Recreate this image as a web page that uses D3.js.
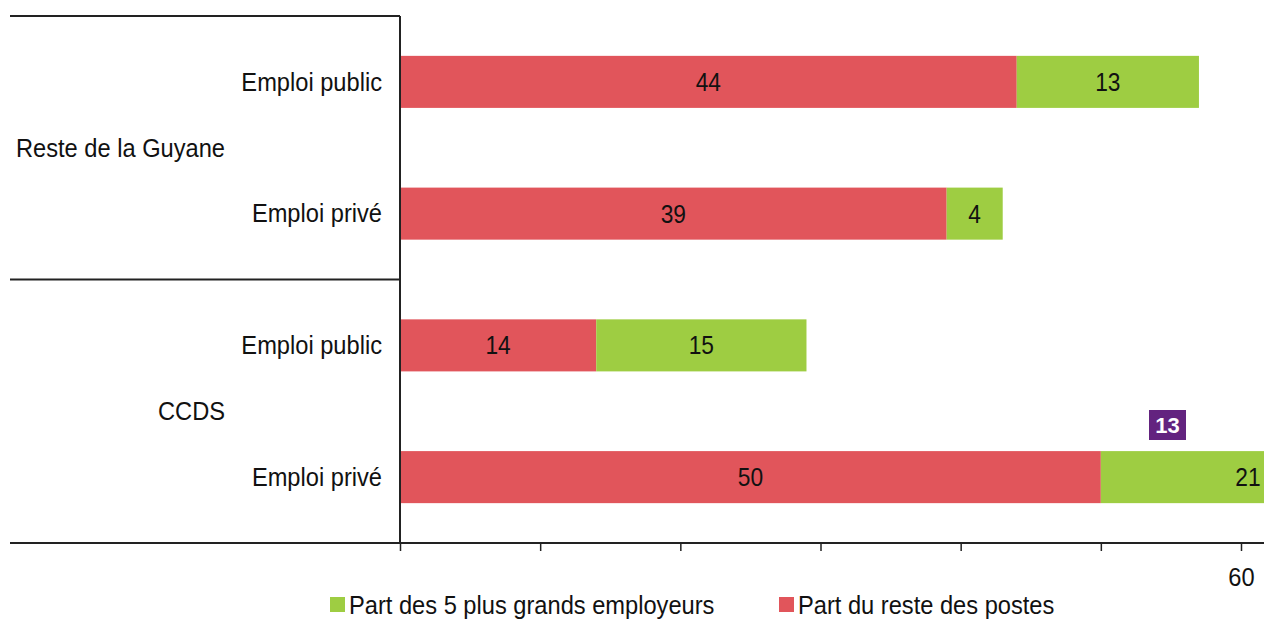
<!DOCTYPE html>
<html>
<head>
<meta charset="utf-8">
<script src="https://cdn.jsdelivr.net/npm/d3@7"></script>
<style>
  body { margin: 0; background: #fff; }
  text { font-family: "Liberation Sans", Arial, sans-serif; }
</style>
</head>
<body>
<div id="chart"></div>
<script>
// categories (top to bottom)
const groups = ["Reste de la Guyane", "CCDS"];
const rows = [
  { group: "Reste de la Guyane", label: "Emploi public" },
  { group: "Reste de la Guyane", label: "Emploi privé" },
  { group: "CCDS", label: "Emploi public" },
  { group: "CCDS", label: "Emploi privé" }
];
// series values
const resteValues = [44, 39, 14, 50];   // Part du reste des postes
const top5Values = [13, 4, 15, 21];     // Part des 5 plus grands employeurs
const xTicks = [0, 10, 20, 30, 40, 50, 60];
const xTickLabels = ["", "", "", "", "", "", "60"];
const seriesNames = ["Part des 5 plus grands employeurs", "Part du reste des postes"];
const badgeText = "13";

// condensed look: squeeze the text horizontally
const SQ = 0.91;
function place(sel, fx, fy) {
    sel.attr("x", 0).attr("y", 0)
        .attr("transform", function (d, i) {
            return "translate(" + fx(d, i) + "," + fy(d, i) + ") scale(" + SQ + ",1)";
        });
}

function init() {
    const width = 1264, height = 621;
    const red = "#e1555b", green = "#9ecd42";

    const svg = d3.select("#chart")
        .append("svg")
        .attr("width", width)
        .attr("height", height);

    const x = d3.scaleLinear().domain([0, 60]).range([400, 1241]);
    const y = d3.scaleBand()
        .domain(d3.range(rows.length))
        .range([16, 543])
        .paddingInner(0.605)
        .paddingOuter(0.3025);
    const step = y.step();

    // stacked data
    const data = rows.map(function (r, i) {
        return { i: i, reste: resteValues[i], top5: top5Values[i] };
    });
    const stack = d3.stack().keys(["reste", "top5"])(data);
    const colors = { reste: red, top5: green };

    stack.forEach(function (layer) {
        svg.append("g")
            .selectAll("rect")
            .data(layer)
            .join("rect")
            .attr("x", function (d) { return x(d[0]); })
            .attr("y", function (d) { return y(d.data.i); })
            .attr("width", function (d) { return x(d[1]) - x(d[0]); })
            .attr("height", y.bandwidth())
            .attr("fill", colors[layer.key]);

        svg.append("g")
            .selectAll("text")
            .data(layer)
            .join("text")
            .call(place,
                function (d) { return (x(d[0]) + x(d[1])) / 2; },
                function (d) { return y(d.data.i) + y.bandwidth() / 2; })
            .attr("dy", "0.36em")
            .attr("text-anchor", "middle")
            .attr("font-size", 25)
            .attr("fill", "#111")
            .text(function (d) { return d[1] - d[0]; });
    });

    // group frame lines
    const lineY = [16, 16 + 2 * step, 543];
    svg.append("g")
        .selectAll("line")
        .data(lineY)
        .join("line")
        .attr("x1", 10)
        .attr("x2", function (d, i) { return i === 2 ? width : 400; })
        .attr("y1", function (d) { return d; })
        .attr("y2", function (d) { return d; })
        .attr("stroke", "#222")
        .attr("stroke-width", 2);

    // vertical axis line
    svg.append("line")
        .attr("x1", 400).attr("x2", 400)
        .attr("y1", 16).attr("y2", 543)
        .attr("stroke", "#222")
        .attr("stroke-width", 2);

    // x axis
    const xAxis = svg.append("g")
        .attr("transform", "translate(0,543)")
        .call(d3.axisBottom(x)
            .tickValues(xTicks)
            .tickSize(8)
            .tickSizeOuter(0)
            .tickFormat(function (d, i) { return xTickLabels[i]; }));
    xAxis.select(".domain").remove();
    xAxis.selectAll(".tick line").attr("stroke", "#222").attr("stroke-width", 1.5);
    xAxis.selectAll(".tick text")
        .attr("font-size", 26)
        .attr("fill", "#111")
        .attr("font-family", null)
        .attr("dy", null)
        .call(place, function () { return 0; }, function () { return 43; });

    // row labels
    svg.append("g")
        .selectAll("text")
        .data(rows)
        .join("text")
        .call(place,
            function () { return 382; },
            function (d, i) { return y(i) + y.bandwidth() / 2; })
        .attr("dy", "0.34em")
        .attr("text-anchor", "end")
        .attr("font-size", 26)
        .attr("fill", "#111")
        .text(function (d) { return d.label; });

    // group labels
    svg.append("g")
        .selectAll("text")
        .data(groups)
        .join("text")
        .call(place,
            function () { return 225; },
            function (d, gi) { return 16 + (2 * gi + 1) * step; })
        .attr("dy", "0.34em")
        .attr("text-anchor", "end")
        .attr("font-size", 26)
        .attr("fill", "#111")
        .text(function (d) { return d; });

    // badge
    const badge = svg.append("g").attr("transform", "translate(1149,410)");
    badge.append("rect")
        .attr("width", 37).attr("height", 30)
        .attr("fill", "#63237f");
    badge.append("text")
        .attr("x", 18.5).attr("y", 15).attr("dy", "0.36em")
        .attr("text-anchor", "middle")
        .attr("font-size", 22)
        .attr("font-weight", "bold")
        .attr("fill", "#fff")
        .text(badgeText);

    // legend
    const legendItems = [
        { name: seriesNames[0], color: green, x: 330 },
        { name: seriesNames[1], color: red, x: 779 }
    ];
    const legend = svg.append("g")
        .selectAll("g")
        .data(legendItems)
        .join("g")
        .attr("transform", function (d) { return "translate(" + d.x + ",597)"; });
    legend.append("rect")
        .attr("width", 15).attr("height", 15)
        .attr("fill", function (d) { return d.color; });
    legend.append("text")
        .call(place, function () { return 19; }, function () { return 8; })
        .attr("dy", "0.36em")
        .attr("font-size", 26)
        .attr("fill", "#111")
        .text(function (d) { return d.name; });
}

window.addEventListener('load', init);
</script>
</body>
</html>
